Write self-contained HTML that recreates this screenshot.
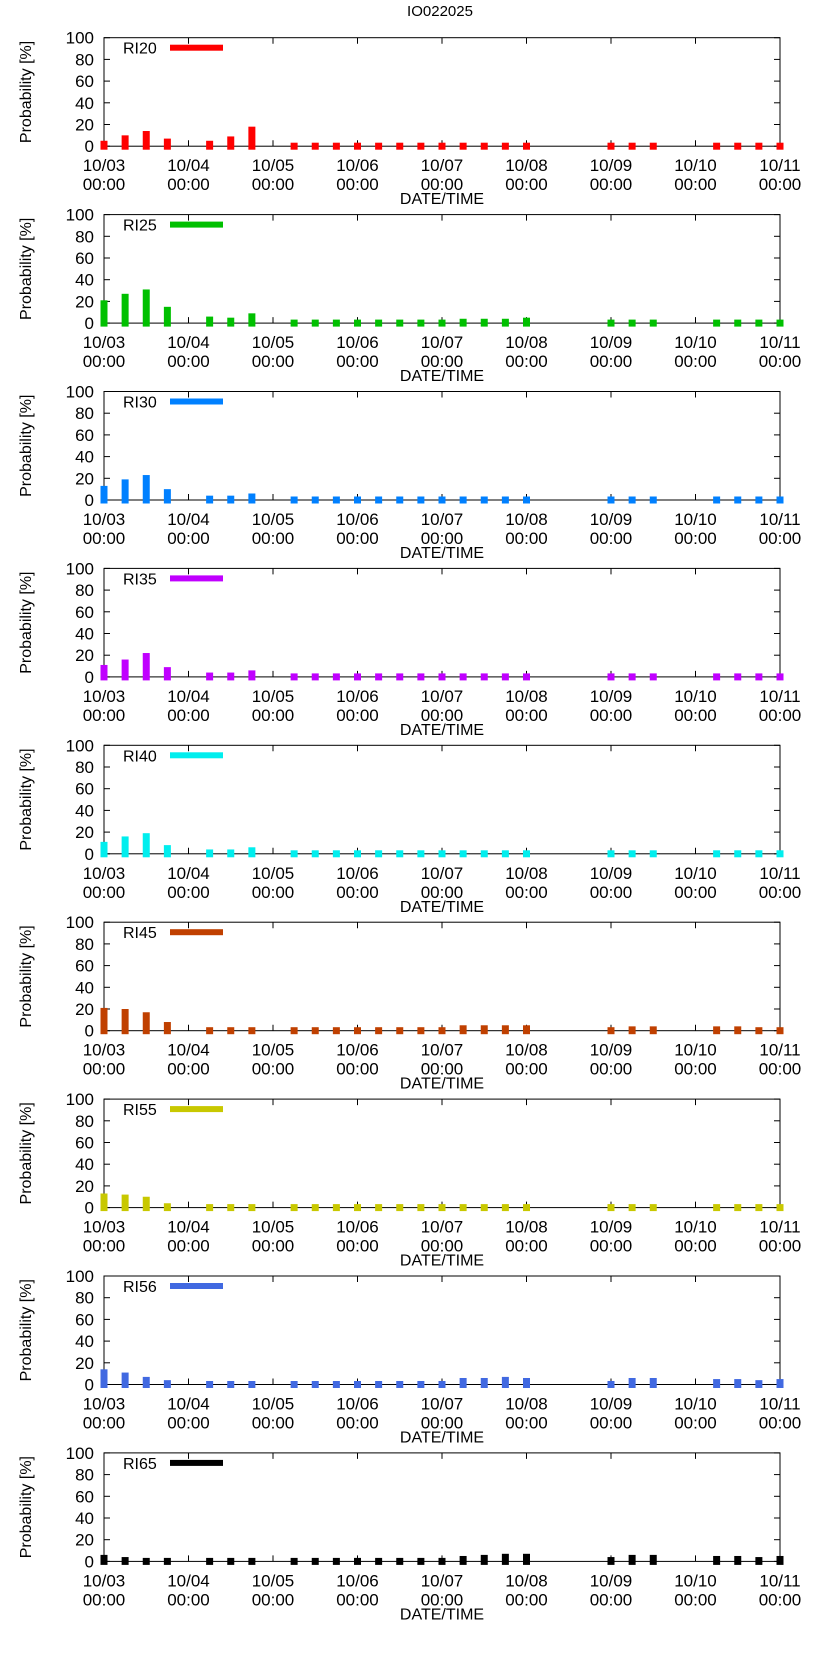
<!DOCTYPE html>
<html><head><meta charset="utf-8"><style>
html,body{margin:0;padding:0;background:#fff;}
svg{display:block;font-family:"Liberation Sans","DejaVu Sans",sans-serif;}
</style></head><body>
<svg id="chart" width="822" height="1653" viewBox="0 0 822 1653" xmlns="http://www.w3.org/2000/svg">
<text x="440" y="16" font-size="15" text-anchor="middle">IO022025</text>
</svg>
<script>
const hours = [0,6,12,18,30,36,42,54,60,66,72,78,84,90,96,102,108,114,120,144,150,156,174,180,186,192];
const dayLabels = ["10/03","10/04","10/05","10/06","10/07","10/08","10/09","10/10","10/11"];
const yTicks = [0,20,40,60,80,100];
const seriesNames = ["RI20","RI25","RI30","RI35","RI40","RI45","RI55","RI56","RI65"];
const seriesColors = ["#ff0000","#00c000","#0080ff","#c000ff","#00eeee","#c04000","#c8c800","#4169e1","#000000"];
const ri20 = [5,10,14,7,5,9,18,0,0,0,0,0,0,0,0,0,0,0,0,0,0,0,0,0,0,0];
const ri25 = [21,27,31,15,6,5,9,3,3,3,3,3,3,3,3,4,4,4,5,3,3,3,3,3,3,3];
const ri30 = [13,19,23,10,4,4,6,2,2,2,2,2,2,2,2,2,2,3,3,2,2,2,2,2,2,2];
const ri35 = [11,16,22,9,4,4,6,1,1,1,1,1,1,1,1,1,1,1,1,1,1,1,1,1,1,1];
const ri40 = [11,16,19,8,4,4,6,1,1,1,1,1,1,1,1,1,1,1,1,1,1,1,1,1,1,1];
const ri45 = [21,20,17,8,3,3,3,3,3,3,3,3,3,3,3,5,5,5,5,3,4,4,4,4,3,3];
const ri55 = [13,12,10,4,2,2,2,2,2,2,2,2,2,2,2,3,3,3,3,2,3,3,2,2,2,2];
const ri56 = [14,11,7,4,3,2,2,2,2,2,2,2,2,2,2,6,6,7,6,3,6,6,5,5,4,5];
const ri65 = [6,4,3,3,2,2,2,2,2,2,2,2,2,3,3,5,6,7,7,4,6,6,5,5,4,5];
const allSeries = [ri20,ri25,ri30,ri35,ri40,ri45,ri55,ri56,ri65];

const NS="http://www.w3.org/2000/svg";
const svg=document.getElementById('chart');
const L=104, R=780, TOP0=37.7, H=108.5, PITCH=176.9, HMAX=192;
function mk(tag,attrs,parent){const e=document.createElementNS(NS,tag);for(const k in attrs)e.setAttribute(k,attrs[k]);parent.appendChild(e);return e;}
const xs=h=>L+(R-L)*h/HMAX;

allSeries.forEach((vals,p)=>{
  const top=TOP0+p*PITCH, y0=top+H;
  const ys=v=>y0-H*v/100;
  const g=mk('g',{},svg);
  
  
  const yt=mk('text',{x:0,y:0,'font-size':16,'text-anchor':'middle',transform:`translate(31,${top+H/2}) rotate(-90)`},g);
  
  
  yt.textContent='Probability [%]';
  yTicks.forEach(t=>{
    const y=ys(t);
    const tl=mk('text',{x:94,y:y+6,'font-size':17,'text-anchor':'end'},g);
    
    
    tl.textContent=t;
    mk('line',{x1:L,x2:L+6,y1:y,y2:y,stroke:'#000','stroke-width':1},g);
    mk('line',{x1:R,x2:R-6,y1:y,y2:y,stroke:'#000','stroke-width':1},g);
  });
  dayLabels.forEach((d,i)=>{
    const x=xs(i*24);
    mk('line',{x1:x,x2:x,y1:y0,y2:y0-6,stroke:'#000','stroke-width':1},g);
    mk('line',{x1:x,x2:x,y1:top,y2:top+6,stroke:'#000','stroke-width':1},g);
    const t1=mk('text',{x:x,y:y0+25,'font-size':17,'text-anchor':'middle'},g);
    
    
    t1.textContent=d;
    const t2=mk('text',{x:x,y:y0+44,'font-size':17,'text-anchor':'middle'},g);
    
    
    t2.textContent='00:00';
  });
  const xt=mk('text',{x:(L+R)/2,y:y0+58,'font-size':16,'text-anchor':'middle'},g);
  
  
  xt.textContent='DATE/TIME';
  const fr=mk('rect',{x:L,y:top,width:R-L,height:H,fill:'none',stroke:'#000','stroke-width':1},g);
  
  
  vals.forEach((v,i)=>{
    const x=xs(hours[i]);
    const yt2=Math.min(ys(v),y0-3.5);
    const b=mk('rect',{x:x-3.5,y:yt2,width:7,height:(y0+3.5)-yt2,fill:seriesColors[p]},g);
    
    
  });
  const lt=mk('text',{x:123,y:top+16,'font-size':16},g);
  
  
  lt.textContent=seriesNames[p];
  const ls=mk('rect',{x:170,y:top+7,width:53,height:6,fill:seriesColors[p]},g);
  
  
});
</script>
</body></html>
